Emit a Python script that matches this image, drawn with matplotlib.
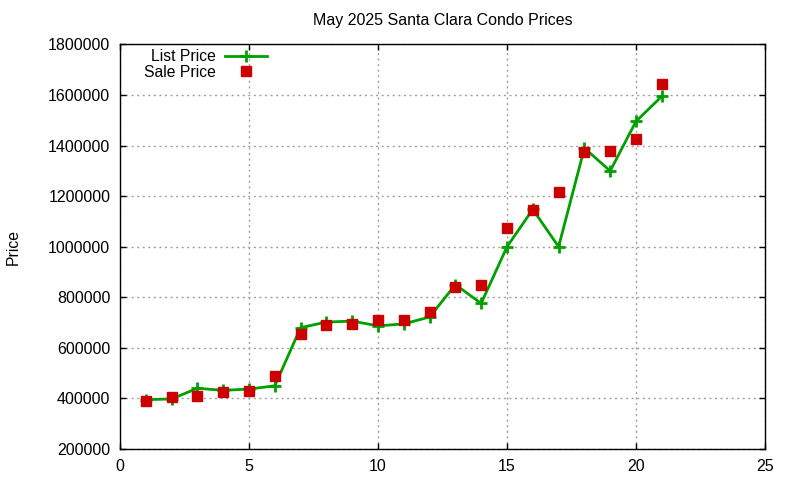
import numpy as np
import matplotlib
matplotlib.use("Agg")
import matplotlib.pyplot as plt
from matplotlib.ticker import FormatStrFormatter

# data
idx = list(range(1, 22))
list_price = [395000, 398000, 440000, 432000, 437000, 450000, 680000, 702000, 706000, 687000,
              695000, 722000, 850000, 776000, 1000000, 1148000, 1000000, 1390000, 1300000, 1496000, 1595000]
sale_price = [390000, 405000, 410000, 426000, 430000, 488000, 654000, 689000, 694000, 710000,
              710000, 740000, 840000, 847000, 1073000, 1147000, 1218000, 1373000, 1377000, 1428000, 1644000]

xticks = [0, 5, 10, 15, 20, 25]
yticks = list(range(200000, 1800001, 200000))

plt.rcParams['font.family'] = ['Liberation Sans', 'DejaVu Sans']
plt.rcParams['font.size'] = 11.3

fig = plt.figure(figsize=(8, 4.8), dpi=100)
ax = fig.add_axes([0.15, 0.0646, 0.80625, 0.8427])

ax.plot(idx, list_price, color='#00a000', lw=2, marker='+', ms=8, mew=2, label='List Price')
ax.plot(idx, sale_price, ls='none', color='#cc0000', marker='s', ms=6.5, label='Sale Price')

ax.set_xlim(0, 25)
ax.set_ylim(200000, 1800000)
ax.set_xticks(xticks)
ax.set_yticks(yticks)
ax.yaxis.set_major_formatter(FormatStrFormatter('%d'))
ax.tick_params(direction='in', top=True, right=True, length=4, width=1, pad=7, labelsize=11.5)
ax.grid(True, ls=(0, (1.5, 2.5)), color='#a0a0a0', lw=1)
for s in ax.spines.values():
    s.set_linewidth(1)

ax.set_title('May 2025 Santa Clara Condo Prices', pad=14, fontsize=11.5)
fig.text(0.016, 0.485, 'Price', rotation=90, va='center', ha='center')

leg = ax.legend(loc='upper right', bbox_to_anchor=(267 / 800, 1 - 49 / 480),
                bbox_transform=fig.transFigure, frameon=False, markerfirst=False,
                handlelength=2.7, handletextpad=0.55, labelspacing=0.05,
                borderaxespad=0, borderpad=0)
for t in leg.get_texts():
    t.set_ha('right')
leg._legend_box.align = 'right'

fig.savefig('out.png', dpi=100)
